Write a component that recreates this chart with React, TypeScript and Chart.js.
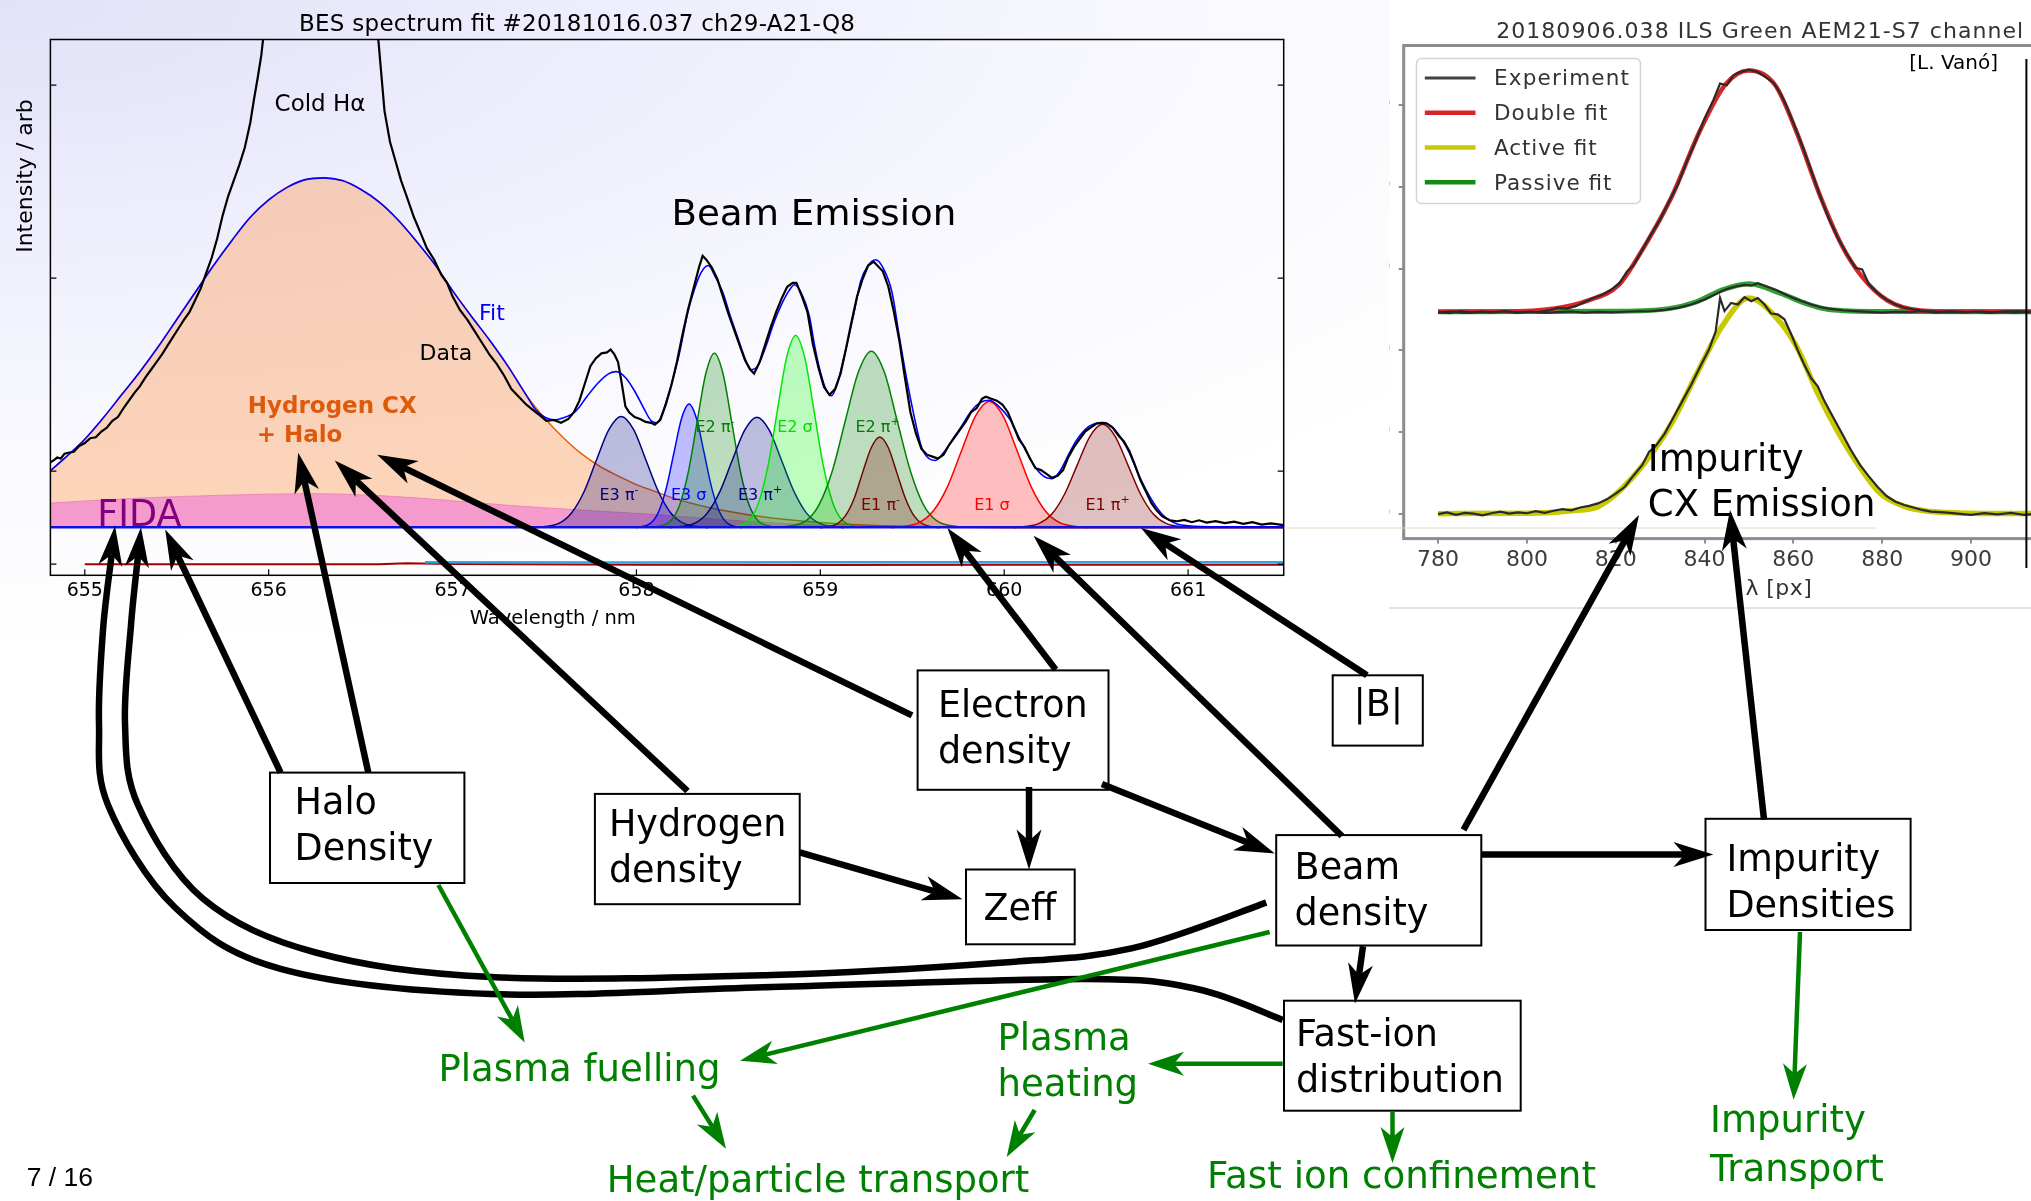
import React, { useEffect, useRef } from "react";
import { Chart, registerables } from "chart.js";
Chart.register(...registerables);

type P = [number, number];

// ---------------- BES spectrum (left chart) ----------------
const BES_X_TICKS = [655, 656, 657, 658, 659, 660, 661];
const BES_Y_TICKS = [-0.187, 0.295, 1.295, 2.295];
const BES_X_MIN = 654.813;
const BES_X_MAX = 661.52;
const BES_Y_MIN = -0.245;
const BES_Y_MAX = 2.531;

const BES_DATA: P[] = [
  [654.813, 0.34], [654.83, 0.35], [654.85, 0.365], [654.87, 0.36], [654.89, 0.385], [654.91, 0.39], [654.94, 0.395],
  [654.97, 0.425], [655.0, 0.44], [655.03, 0.465], [655.06, 0.47], [655.09, 0.5], [655.12, 0.52], [655.15, 0.555],
  [655.18, 0.575], [655.21, 0.62], [655.24, 0.66], [655.27, 0.7], [655.3, 0.735], [655.33, 0.78], [655.36, 0.82],
  [655.39, 0.86], [655.42, 0.9], [655.45, 0.945], [655.48, 0.99], [655.51, 1.035], [655.54, 1.08], [655.57, 1.12],
  [655.6, 1.18], [655.63, 1.24], [655.66, 1.32], [655.69, 1.4], [655.72, 1.5], [655.75, 1.62], [655.78, 1.72],
  [655.81, 1.8], [655.84, 1.88], [655.87, 1.97], [655.9, 2.1], [655.92, 2.22], [655.94, 2.33], [655.96, 2.45],
  [655.98, 2.62], [656.02, 3.2], [656.1, 4.2], [656.3, 4.8], [656.5, 4.2], [656.56, 3.1], [656.59, 2.6],
  [656.61, 2.38], [656.63, 2.16], [656.66, 2.0], [656.69, 1.9], [656.72, 1.8], [656.75, 1.72], [656.79, 1.61],
  [656.83, 1.52], [656.86, 1.45], [656.9, 1.39], [656.94, 1.31], [656.97, 1.27], [657.0, 1.2], [657.04, 1.13],
  [657.08, 1.08], [657.12, 1.02], [657.16, 0.96], [657.2, 0.9], [657.24, 0.85], [657.28, 0.79], [657.32, 0.72],
  [657.36, 0.68], [657.4, 0.64], [657.44, 0.61], [657.48, 0.58], [657.51, 0.555], [657.55, 0.56], [657.59, 0.545],
  [657.63, 0.565], [657.66, 0.6], [657.69, 0.66], [657.72, 0.75], [657.75, 0.84], [657.78, 0.88], [657.81, 0.905],
  [657.84, 0.91], [657.86, 0.925], [657.88, 0.9], [657.9, 0.86], [657.92, 0.75], [657.94, 0.63], [657.96, 0.6],
  [657.99, 0.575], [658.02, 0.565], [658.05, 0.55], [658.08, 0.545], [658.1, 0.535], [658.13, 0.56], [658.16, 0.64],
  [658.19, 0.74], [658.22, 0.86], [658.25, 1.0], [658.28, 1.13], [658.31, 1.24], [658.34, 1.35], [658.36, 1.41],
  [658.38, 1.39], [658.41, 1.35], [658.44, 1.29], [658.47, 1.2], [658.5, 1.11], [658.53, 1.03], [658.56, 0.95],
  [658.59, 0.87], [658.62, 0.82], [658.64, 0.8], [658.67, 0.86], [658.7, 0.95], [658.73, 1.04], [658.76, 1.12],
  [658.79, 1.19], [658.82, 1.25], [658.85, 1.27], [658.87, 1.27], [658.9, 1.2], [658.93, 1.12], [658.96, 0.95],
  [658.99, 0.83], [659.02, 0.73], [659.05, 0.69], [659.08, 0.72], [659.11, 0.8], [659.14, 0.93], [659.17, 1.07],
  [659.2, 1.2], [659.23, 1.29], [659.26, 1.36], [659.29, 1.38], [659.31, 1.36], [659.34, 1.33], [659.37, 1.25],
  [659.4, 1.12], [659.43, 0.97], [659.46, 0.78], [659.49, 0.6], [659.52, 0.49], [659.55, 0.41], [659.58, 0.38],
  [659.61, 0.37], [659.64, 0.36], [659.67, 0.38], [659.7, 0.43], [659.73, 0.47], [659.76, 0.51], [659.79, 0.55],
  [659.82, 0.6], [659.85, 0.62], [659.88, 0.67], [659.9, 0.68], [659.93, 0.67], [659.96, 0.66], [659.99, 0.64],
  [660.02, 0.6], [660.05, 0.53], [660.08, 0.46], [660.11, 0.42], [660.14, 0.36], [660.17, 0.31], [660.2, 0.3],
  [660.23, 0.28], [660.26, 0.26], [660.29, 0.27], [660.32, 0.3], [660.35, 0.37], [660.38, 0.42], [660.41, 0.46],
  [660.44, 0.5], [660.47, 0.52], [660.5, 0.54], [660.53, 0.545], [660.56, 0.54], [660.59, 0.52], [660.62, 0.48],
  [660.65, 0.45], [660.68, 0.4], [660.71, 0.33], [660.74, 0.25], [660.77, 0.19], [660.8, 0.13], [660.83, 0.09],
  [660.86, 0.06], [660.9, 0.04], [660.94, 0.035], [660.98, 0.042], [661.02, 0.03], [661.06, 0.04], [661.1, 0.028],
  [661.15, 0.036], [661.2, 0.025], [661.25, 0.033], [661.3, 0.022], [661.35, 0.03], [661.4, 0.018], [661.45, 0.024],
  [661.52, 0.015],
];

const BES_FIT: P[] = [
  [654.813, 0.297], [654.9, 0.37], [655.0, 0.46], [655.1, 0.57], [655.2, 0.69], [655.3, 0.81], [655.4, 0.94],
  [655.5, 1.08], [655.6, 1.22], [655.7, 1.36], [655.8, 1.49], [655.9, 1.61], [656.0, 1.7], [656.1, 1.765],
  [656.2, 1.805], [656.3, 1.814], [656.4, 1.8], [656.5, 1.755], [656.6, 1.69], [656.7, 1.6], [656.8, 1.49],
  [656.9, 1.37], [657.0, 1.23], [657.1, 1.1], [657.2, 0.975], [657.3, 0.84], [657.4, 0.69], [657.45, 0.615],
  [657.5, 0.575], [657.55, 0.56], [657.6, 0.57], [657.67, 0.605], [657.73, 0.68], [657.79, 0.75], [657.85, 0.8],
  [657.89, 0.81], [657.94, 0.78], [657.99, 0.71], [658.04, 0.62], [658.08, 0.555], [658.11, 0.545], [658.17, 0.68],
  [658.23, 0.89], [658.28, 1.12], [658.31, 1.22], [658.35, 1.32], [658.39, 1.36], [658.43, 1.3], [658.47, 1.22],
  [658.51, 1.1], [658.55, 0.99], [658.59, 0.88], [658.62, 0.82], [658.66, 0.84], [658.7, 0.93], [658.75, 1.07],
  [658.79, 1.16], [658.83, 1.23], [658.86, 1.26], [658.9, 1.21], [658.94, 1.1], [658.97, 0.94], [659.0, 0.81],
  [659.03, 0.72], [659.06, 0.685], [659.09, 0.74], [659.13, 0.89], [659.18, 1.1], [659.22, 1.28], [659.26, 1.36],
  [659.3, 1.39], [659.34, 1.35], [659.39, 1.22], [659.43, 0.99], [659.47, 0.77], [659.51, 0.58], [659.55, 0.42],
  [659.59, 0.36], [659.625, 0.35], [659.67, 0.39], [659.72, 0.46], [659.77, 0.53], [659.82, 0.605], [659.87, 0.65],
  [659.92, 0.662], [659.97, 0.63], [660.03, 0.564], [660.08, 0.47], [660.13, 0.38], [660.18, 0.3], [660.23, 0.26],
  [660.26, 0.256], [660.3, 0.29], [660.35, 0.38], [660.39, 0.45], [660.44, 0.51], [660.49, 0.54], [660.54, 0.547],
  [660.59, 0.52], [660.64, 0.46], [660.68, 0.39], [660.72, 0.3], [660.77, 0.2], [660.81, 0.134], [660.86, 0.07],
  [660.9, 0.04], [660.94, 0.021], [661.0, 0.012], [661.2, 0.006], [661.52, 0.005],
];

const BES_CX_HALO: P[] = [
  [654.813, 0.297], [654.9, 0.37], [655.0, 0.46], [655.1, 0.57], [655.2, 0.69], [655.3, 0.81], [655.4, 0.94],
  [655.5, 1.08], [655.6, 1.22], [655.7, 1.36], [655.8, 1.49], [655.9, 1.61], [656.0, 1.7], [656.1, 1.765],
  [656.2, 1.805], [656.3, 1.814], [656.4, 1.8], [656.5, 1.755], [656.6, 1.69], [656.7, 1.6], [656.8, 1.49],
  [656.9, 1.37], [657.0, 1.23], [657.1, 1.1], [657.2, 0.975], [657.3, 0.84], [657.4, 0.69], [657.5, 0.57],
  [657.6, 0.47], [657.7, 0.385], [657.8, 0.32], [657.9, 0.27], [658.0, 0.225], [658.1, 0.19], [658.2, 0.155],
  [658.4, 0.105], [658.6, 0.07], [658.8, 0.045], [659.0, 0.028], [659.2, 0.017], [659.5, 0.008], [660.0, 0.002],
  [661.52, 0],
];

const BES_FIDA: P[] = [
  [654.813, 0.129], [655.0, 0.14], [655.3, 0.155], [655.75, 0.17], [656.24, 0.178], [656.6, 0.168], [656.97, 0.144],
  [657.3, 0.118], [657.7, 0.093], [658.1, 0.07], [658.6, 0.035], [659.0, 0.015], [659.4, 0.005], [660.0, 0.001],
  [661.52, 0],
];

const E3_PI_MINUS: P[] = [
  [657.445, 0.001], [657.58, 0.025], [657.647, 0.078], [657.715, 0.188], [657.782, 0.351], [657.85, 0.51],
  [657.917, 0.578], [657.985, 0.51], [658.052, 0.351], [658.12, 0.188], [658.187, 0.078], [658.255, 0.025], [658.39, 0.001],
];
const E3_SIGMA: P[] = [
  [657.999, 0.001], [658.081, 0.028], [658.122, 0.087], [658.163, 0.209], [658.204, 0.39], [658.245, 0.566],
  [658.286, 0.642], [658.327, 0.566], [658.368, 0.39], [658.409, 0.209], [658.45, 0.087], [658.491, 0.028], [658.573, 0.001],
];
const E3_PI_PLUS: P[] = [
  [658.183, 0.001], [658.318, 0.025], [658.385, 0.077], [658.453, 0.187], [658.52, 0.348], [658.588, 0.506],
  [658.655, 0.574], [658.723, 0.506], [658.79, 0.348], [658.858, 0.187], [658.925, 0.077], [658.993, 0.025], [659.128, 0.001],
];
const E2_PI_MINUS: P[] = [
  [658.095, 0.002], [658.189, 0.04], [658.236, 0.122], [658.283, 0.294], [658.33, 0.55], [658.377, 0.799],
  [658.424, 0.906], [658.471, 0.799], [658.518, 0.55], [658.565, 0.294], [658.612, 0.122], [658.659, 0.04], [658.753, 0.002],
];
const E2_SIGMA: P[] = [
  [658.516, 0.002], [658.616, 0.044], [658.666, 0.135], [658.716, 0.324], [658.766, 0.606], [658.816, 0.88],
  [658.866, 0.998], [658.916, 0.88], [658.966, 0.606], [659.016, 0.324], [659.066, 0.135], [659.116, 0.044], [659.216, 0.002],
];
const E2_PI_PLUS: P[] = [
  [658.784, 0.002], [658.925, 0.04], [658.995, 0.124], [659.066, 0.298], [659.136, 0.556], [659.207, 0.808],
  [659.277, 0.916], [659.348, 0.808], [659.418, 0.556], [659.489, 0.298], [659.559, 0.124], [659.63, 0.04], [659.771, 0.002],
];
const E1_PI_MINUS: P[] = [
  [658.998, 0.001], [659.091, 0.021], [659.137, 0.064], [659.184, 0.153], [659.23, 0.287], [659.277, 0.416],
  [659.323, 0.472], [659.37, 0.416], [659.416, 0.287], [659.463, 0.153], [659.509, 0.064], [659.556, 0.021], [659.649, 0.001],
];
const E1_SIGMA: P[] = [
  [659.387, 0.001], [659.539, 0.029], [659.615, 0.089], [659.691, 0.213], [659.767, 0.398], [659.843, 0.579],
  [659.919, 0.656], [659.995, 0.579], [660.071, 0.398], [660.147, 0.213], [660.223, 0.089], [660.299, 0.029], [660.451, 0.001],
];
const E1_PI_PLUS: P[] = [
  [660.052, 0.001], [660.19, 0.024], [660.259, 0.072], [660.328, 0.175], [660.397, 0.326], [660.466, 0.474],
  [660.535, 0.537], [660.604, 0.474], [660.673, 0.326], [660.742, 0.175], [660.811, 0.072], [660.88, 0.024], [661.018, 0.001],
];
const BES_BASELINE: P[] = [[654.813, 0.004], [661.52, 0.004]];
const RESID_RED: P[] = [
  [655.0, -0.188], [656.6, -0.188], [656.75, -0.182], [657.0, -0.186], [658.0, -0.19], [659.0, -0.191], [660.0, -0.19], [661.52, -0.19],
];
const RESID_CYAN: P[] = [[656.85, -0.178], [658.0, -0.179], [659.0, -0.178], [660.0, -0.177], [661.52, -0.178]];

// ---------------- ILS (right chart) ----------------
const ILS_X_TICKS = [780, 800, 820, 840, 860, 880, 900];
const ILS_Y_TICKS = [0, 1000, 2000, 3000, 4000, 5000];
const ILS_X_MIN = 772.25;
const ILS_X_MAX = 914.2;
const ILS_Y_MIN = -300;
const ILS_Y_MAX = 5725;

const ILS_DOUBLE_FIT: P[] = [
  [780, 2473], [795, 2475], [806.2, 2512], [813.7, 2609], [820.7, 2800], [825, 3140], [832.5, 3865], [839, 4686],
  [844.6, 5242], [850, 5420], [855.9, 5242], [860.6, 4686], [866.2, 3865], [870.9, 3285], [875.5, 2898],
  [881.2, 2609], [888.7, 2488], [900, 2474], [916, 2473],
];
const ILS_PASSIVE_FIT: P[] = [
  [780, 2472], [820, 2478], [832, 2510], [838, 2590], [844, 2740], [850, 2815], [857, 2700], [863, 2570],
  [868, 2500], [880, 2475], [916, 2472],
];
const ILS_ACTIVE_FIT: P[] = [
  [780, 5], [800, 10], [810, 40], [816, 90], [821, 290], [827, 660], [832.6, 1110], [838.3, 1720], [843.9, 2290],
  [850, 2640], [856, 2410], [860.8, 2040], [865.5, 1475], [870.2, 990], [874.9, 580], [879.6, 250], [885.2, 90],
  [891, 30], [900, 10], [916, 5],
];
const ILS_EXP_DOUBLE: P[] = [
  [780, 2470], [782.5, 2455], [785, 2480], [787.5, 2462], [790, 2475], [792.5, 2466], [795, 2478], [797.5, 2460],
  [800, 2472], [802.5, 2468], [805, 2490], [807, 2520], [809, 2510], [811, 2540], [813, 2590], [815, 2640],
  [817, 2680], [819, 2740], [821, 2830], [822.5, 2960], [824, 3040], [826, 3230], [828, 3420], [830, 3600],
  [832, 3820], [834, 4030], [836, 4310], [838, 4560], [840, 4830], [842, 5060], [843.5, 5260], [845, 5240],
  [846.5, 5360], [848, 5400], [850, 5430], [852, 5400], [854, 5330], [855.5, 5270], [857, 5150], [858.5, 4980],
  [860, 4780], [862, 4500], [864, 4200], [866, 3890], [868, 3610], [870, 3380], [872, 3180], [874, 3010],
  [875.5, 2990], [877, 2810], [879, 2700], [881, 2620], [883, 2560], [885, 2520], [887, 2500], [889, 2485],
  [891, 2478], [893, 2470], [896, 2476], [899, 2468], [902, 2474], [905, 2465], [908, 2476], [911, 2480],
  [914, 2460], [916, 2470],
];
const ILS_EXP_PASSIVE: P[] = [
  [780, 2460], [783, 2475], [786, 2458], [789, 2470], [792, 2465], [795, 2478], [798, 2462], [801, 2470],
  [804, 2458], [807, 2468], [810, 2475], [813, 2462], [816, 2470], [819, 2465], [822, 2472], [825, 2478],
  [828, 2480], [831, 2495], [834, 2520], [837, 2560], [840, 2620], [843, 2700], [845, 2750], [847, 2780],
  [849, 2800], [850.5, 2790], [852, 2820], [854, 2780], [856, 2740], [858, 2690], [860, 2640], [862, 2600],
  [864, 2560], [866, 2530], [868, 2510], [871, 2490], [874, 2480], [877, 2470], [880, 2462], [883, 2472],
  [886, 2466], [889, 2478], [892, 2460], [895, 2470], [898, 2465], [901, 2472], [904, 2458], [907, 2470],
  [910, 2462], [913, 2476], [916, 2455],
];
const ILS_EXP_ACTIVE: P[] = [
  [780, 0], [782, 20], [784, -10], [786, 15], [788, 5], [790, -15], [792, 10], [794, 30], [796, 5], [798, 20],
  [800, 10], [802, 35], [804, 15], [806, 40], [808, 60], [810, 45], [812, 80], [814, 100], [816, 130], [818, 180],
  [820, 250], [822, 330], [824, 470], [826, 600], [827.5, 760], [829, 830], [831, 980], [833, 1180], [835, 1380],
  [837, 1580], [839, 1800], [841, 2010], [842.5, 2230], [843.5, 2640], [844.5, 2480], [846, 2580], [847.5, 2560],
  [849, 2650], [850.5, 2600], [852, 2640], [853.5, 2560], [855, 2450], [856.5, 2440], [858, 2380], [859.5, 2200],
  [861, 2000], [862.5, 1820], [864, 1660], [865.5, 1560], [867, 1380], [869, 1180], [871, 980], [873, 780],
  [875, 600], [877, 460], [879, 330], [881, 220], [883, 150], [885, 110], [887, 80], [889, 50], [891, 30],
  [894, 20], [897, 5], [900, -10], [903, 10], [906, -5], [909, 15], [912, -10], [915, 5],
];

const ILS_LEGEND = ["Experiment", "Double fit", "Active fit", "Passive fit"];

// ---------------- helpers ----------------
const xy = (a: P[]) => a.map(([x, y]) => ({ x, y }));
const FONT = "'DejaVu Sans'";

function curveDs(data: P[], color: string, fillColor: string | null, order: number, width = 1.5, smooth = true) {
  return {
    data: xy(data),
    borderColor: color,
    backgroundColor: fillColor || "transparent",
    borderWidth: width,
    fill: fillColor ? "origin" : false,
    pointRadius: 0,
    cubicInterpolationMode: smooth ? "monotone" : "default",
    tension: 0,
    order,
  };
}

const besFrame = {
  id: "besFrame",
  afterDraw(chart: any) {
    const { ctx, chartArea, scales } = chart;
    const { left, right, top, bottom } = chartArea;
    ctx.save();
    ctx.strokeStyle = "#000";
    ctx.lineWidth = 1.5;
    ctx.strokeRect(left, top, right - left, bottom - top);
    ctx.lineWidth = 1.2;
    ctx.beginPath();
    for (const v of BES_X_TICKS) {
      const px = scales.x.getPixelForValue(v);
      ctx.moveTo(px, bottom);
      ctx.lineTo(px, bottom - 6);
    }
    for (const v of BES_Y_TICKS) {
      const py = scales.y.getPixelForValue(v);
      ctx.moveTo(left, py);
      ctx.lineTo(left + 6, py);
      ctx.moveTo(right, py);
      ctx.lineTo(right - 6, py);
    }
    ctx.stroke();
    ctx.restore();
  },
};

const ilsFrame = {
  id: "ilsFrame",
  afterDraw(chart: any) {
    const { ctx, chartArea } = chart;
    const { left, right, top, bottom } = chartArea;
    ctx.save();
    ctx.strokeStyle = "#8c8c8c";
    ctx.lineWidth = 3;
    ctx.strokeRect(left, top, right - left, bottom - top);
    ctx.restore();
  },
};

function smoothPath(pts: P[]) {
  let d = `M ${pts[0][0]} ${pts[0][1]}`;
  for (let i = 0; i < pts.length - 1; i++) {
    const p0 = pts[i - 1] || pts[i];
    const p1 = pts[i];
    const p2 = pts[i + 1];
    const p3 = pts[i + 2] || p2;
    const c1x = p1[0] + (p2[0] - p0[0]) / 6;
    const c1y = p1[1] + (p2[1] - p0[1]) / 6;
    const c2x = p2[0] - (p3[0] - p1[0]) / 6;
    const c2y = p2[1] - (p3[1] - p1[1]) / 6;
    d += ` C ${c1x} ${c1y} ${c2x} ${c2y} ${p2[0]} ${p2[1]}`;
  }
  return d;
}

function headPath(tx: number, ty: number, ux: number, uy: number, hl: number, hw: number, notch: number) {
  const px = -uy, py = ux;
  const bx = tx - ux * hl, by = ty - uy * hl;
  const nx = tx - ux * notch, ny = ty - uy * notch;
  return `M ${tx} ${ty} L ${bx + (px * hw) / 2} ${by + (py * hw) / 2} L ${nx} ${ny} L ${bx - (px * hw) / 2} ${by - (py * hw) / 2} Z`;
}

function Arrow({ a, color, w, hl, hw }: { a: number[]; color: string; w: number; hl: number; hw: number }) {
  const [x1, y1, x2, y2] = a;
  const L = Math.hypot(x2 - x1, y2 - y1);
  const ux = (x2 - x1) / L, uy = (y2 - y1) / L;
  const notch = hl * 0.72;
  return (
    <g>
      <line x1={x1} y1={y1} x2={x2 - ux * notch} y2={y2 - uy * notch} stroke={color} strokeWidth={w} />
      <path d={headPath(x2, y2, ux, uy, hl, hw, notch)} fill={color} />
    </g>
  );
}

function CurveArrow({ pts, w, hl, hw }: { pts: P[]; w: number; hl: number; hw: number }) {
  const n = pts.length;
  const [tx, ty] = pts[n - 1];
  const [sx, sy] = pts[n - 2];
  const L = Math.hypot(tx - sx, ty - sy);
  const ux = (tx - sx) / L, uy = (ty - sy) / L;
  const notch = hl * 0.72;
  const body: P[] = [...pts.slice(0, n - 1), [tx - ux * notch, ty - uy * notch]];
  return (
    <g>
      <path d={smoothPath(body)} stroke="#000" strokeWidth={w} fill="none" />
      <path d={headPath(tx, ty, ux, uy, hl, hw, notch)} fill="#000" />
    </g>
  );
}

const BLACK_ARROWS = [
  [280.6, 772.6, 165.2, 529.5],
  [368.3, 772.6, 298.2, 452.7],
  [687.5, 791, 334.8, 460.6],
  [912, 715.4, 377.2, 454.7],
  [1055.7, 669.6, 947.4, 527.9],
  [1341.9, 836, 1033.5, 535.8],
  [1366.9, 675.3, 1141, 527.9],
  [1029, 787, 1029, 869.5],
  [799.7, 852.3, 962.5, 899.3],
  [1101.9, 784, 1274.8, 853.5],
  [1481.3, 854.4, 1713.4, 854.4],
  [1363, 946.3, 1355, 1003.6],
  [1463.5, 829.8, 1639, 515],
  [1764, 819.6, 1730, 510],
];
const GREEN_ARROWS = [
  [438.4, 885, 524.7, 1042.4],
  [1269.6, 932, 740, 1060.8],
  [693, 1095.6, 726, 1148.7],
  [1034.7, 1110, 1006.7, 1157],
  [1282.7, 1063.7, 1148, 1063.7],
  [1392.5, 1112, 1392.5, 1163],
  [1800, 932, 1793.6, 1099.7],
];
const CURVE_OUTER: P[] = [
  [1282.7, 1020], [1197, 989], [1085.5, 979], [771.6, 987], [491, 994], [280.6, 968.8], [175, 907.5],
  [108, 805], [99, 723.5], [103, 630], [115, 526],
];
const CURVE_INNER: P[] = [
  [1266.3, 902.6], [1131.5, 948.4], [1000, 962.7], [771.6, 975], [491, 977], [315.7, 952.5], [203.4, 899],
  [138, 805], [125, 723.5], [131, 625], [141, 527.3],
];

const BOXES = [
  { x: 270, y: 772.6, w: 194.4, h: 110.4, lines: ["Halo", "Density"], tx: 294.6, ty: 813.5 },
  { x: 594.9, y: 793.9, w: 204.8, h: 110.3, lines: ["Hydrogen", "density"], tx: 608.9, ty: 836 },
  { x: 917.6, y: 670.4, w: 190.9, h: 119.4, lines: ["Electron", "density"], tx: 937.9, ty: 717.4 },
  { x: 966, y: 869.5, w: 108.7, h: 74.8, lines: ["Zeff"], tx: 983.5, ty: 919.8 },
  { x: 1332.7, y: 675.3, w: 90.1, h: 70.3, lines: ["|B|"], tx: 1353.5, ty: 716 },
  { x: 1276.2, y: 835.1, w: 205.1, h: 110.4, lines: ["Beam", "density"], tx: 1294.6, ty: 878.9 },
  { x: 1705.5, y: 818.8, w: 205.1, h: 111.2, lines: ["Impurity", "Densities"], tx: 1726.5, ty: 870.7 },
  { x: 1284, y: 1000.7, w: 236.7, h: 110, lines: ["Fast-ion", "distribution"], tx: 1295.9, ty: 1045.7 },
];

export default function App() {
  const besRef = useRef<HTMLCanvasElement | null>(null);
  const ilsRef = useRef<HTMLCanvasElement | null>(null);

  useEffect(() => {
    const besCfg: any = {
      type: "line",
      data: {
        datasets: [
          curveDs(BES_DATA, "#000000", null, 5, 2.2, false),
          curveDs(BES_FIT, "#0000ff", null, 10, 1.6),
          curveDs(RESID_CYAN, "#2aa6ea", null, 14, 2.5, false),
          curveDs(RESID_RED, "#a00000", null, 15, 2, false),
          curveDs(BES_BASELINE, "#1010e0", null, 20, 2.5, false),
          curveDs(E1_PI_PLUS, "#800000", "rgba(128,0,0,0.25)", 72),
          curveDs(E1_SIGMA, "#ff0000", "rgba(255,0,0,0.25)", 73),
          curveDs(E1_PI_MINUS, "#6b0a00", "rgba(128,0,0,0.25)", 74),
          curveDs(E2_PI_PLUS, "#008000", "rgba(0,128,0,0.25)", 75),
          curveDs(E2_SIGMA, "#00e600", "rgba(0,255,0,0.25)", 76),
          curveDs(E3_PI_PLUS, "#000080", "rgba(0,0,128,0.25)", 77),
          curveDs(E2_PI_MINUS, "#008000", "rgba(0,128,0,0.25)", 78),
          curveDs(E3_SIGMA, "#0000ff", "rgba(0,0,255,0.25)", 79),
          curveDs(E3_PI_MINUS, "#000080", "rgba(0,0,128,0.25)", 80),
          curveDs(BES_FIDA, "rgba(230,120,170,0.7)", "rgba(240,120,215,0.62)", 90, 1),
          curveDs(BES_CX_HALO, "#e8600a", "rgba(255,140,60,0.35)", 100, 1.5),
        ],
      },
      options: {
        responsive: false,
        animation: false,
        devicePixelRatio: 1,
        layout: { padding: { top: 39.5, right: 16.3, left: 0, bottom: 0 } },
        plugins: { legend: { display: false }, tooltip: { enabled: false } },
        scales: {
          x: {
            type: "linear",
            min: BES_X_MIN,
            max: BES_X_MAX,
            afterBuildTicks: (s: any) => { s.ticks = BES_X_TICKS.map((v) => ({ value: v })); },
            afterFit: (s: any) => { s.height = 64.7; },
            grid: { display: false, drawTicks: false },
            border: { display: false },
            ticks: { autoSkip: false, maxRotation: 0, padding: 4, color: "#000", font: { family: FONT, size: 19 }, callback: (v: number) => String(v) },
          },
          y: {
            type: "linear",
            min: BES_Y_MIN,
            max: BES_Y_MAX,
            afterBuildTicks: (s: any) => { s.ticks = BES_Y_TICKS.map((v) => ({ value: v })); },
            afterFit: (s: any) => { s.width = 50.4; },
            grid: { display: false, drawTicks: false },
            border: { display: false },
            ticks: { display: false },
          },
        },
      },
      plugins: [besFrame],
    };

    const ilsCfg: any = {
      type: "line",
      data: {
        datasets: [
          curveDs(ILS_EXP_DOUBLE, "#2a2a2a", null, 1, 2.2, false),
          curveDs(ILS_EXP_PASSIVE, "#2a2a2a", null, 2, 2.2, false),
          curveDs(ILS_EXP_ACTIVE, "#2a2a2a", null, 3, 2.2, false),
          curveDs(ILS_DOUBLE_FIT, "#d62728", null, 10, 4.5),
          curveDs(ILS_PASSIVE_FIT, "rgba(10,140,10,0.85)", null, 11, 5),
          curveDs(ILS_ACTIVE_FIT, "#c9c900", null, 12, 5.5),
        ],
      },
      options: {
        responsive: false,
        animation: false,
        devicePixelRatio: 1,
        layout: { padding: { top: 45.5, right: 6, left: 0, bottom: 0 } },
        plugins: { legend: { display: false }, tooltip: { enabled: false } },
        scales: {
          x: {
            type: "linear",
            min: ILS_X_MIN,
            max: ILS_X_MAX,
            afterBuildTicks: (s: any) => { s.ticks = ILS_X_TICKS.map((v) => ({ value: v })); },
            afterFit: (s: any) => { s.height = 69.4; },
            grid: { display: true, drawOnChartArea: false, drawTicks: true, tickLength: 5, color: "#8c8c8c", lineWidth: 2 },
            border: { display: false },
            ticks: { autoSkip: false, maxRotation: 0, padding: 3, color: "#3c3c3c", font: { family: FONT, size: 22 }, callback: (v: number) => String(v) },
          },
          y: {
            type: "linear",
            min: ILS_Y_MIN,
            max: ILS_Y_MAX,
            afterBuildTicks: (s: any) => { s.ticks = ILS_Y_TICKS.map((v) => ({ value: v })); },
            afterFit: (s: any) => { s.width = 103.7; },
            grid: { display: true, drawOnChartArea: false, drawTicks: true, tickLength: 5, color: "#8c8c8c", lineWidth: 2 },
            border: { display: false },
            ticks: { padding: 8, color: "#3c3c3c", font: { family: FONT, size: 22 }, callback: (v: number) => String(v) },
          },
        },
      },
      plugins: [ilsFrame],
    };

    const c1 = new Chart(besRef.current as HTMLCanvasElement, besCfg);
    const c2 = new Chart(ilsRef.current as HTMLCanvasElement, ilsCfg);
    return () => {
      c1.destroy();
      c2.destroy();
    };
  }, []);

  const green = "#008000";
  const sup = (s: string) => (
    <tspan dy={-7} fontSize={11}>{s}</tspan>
  );

  return (
    <div
      style={{
        position: "absolute",
        left: 0,
        top: 0,
        width: 2031,
        height: 1201,
        overflow: "hidden",
        background: "radial-gradient(ellipse 1800px 650px at 0px 0px, #e1e1f9 0%, #eeeefc 35%, #f8f8fe 65%, #ffffff 100%)",
      }}
    >
      <canvas ref={besRef} width={1300} height={640} style={{ position: "absolute", left: 0, top: 0, width: 1300, height: 640 }} />
      <div style={{ position: "absolute", left: 1389, top: 0, width: 642, height: 608, overflow: "hidden", background: "#ffffff" }}>
        <canvas ref={ilsRef} width={740} height={608} style={{ position: "absolute", left: -89, top: 0, width: 740, height: 608 }} />
      </div>
      <svg width={2031} height={1201} style={{ position: "absolute", left: 0, top: 0, pointerEvents: "none" }} fontFamily={FONT}>
        {/* decorative lines */}
        <line x1={1284} y1={528} x2={1877} y2={528} stroke="#e4dcc4" strokeWidth={1} />
        <line x1={1389} y1={608} x2={2031} y2={608} stroke="#e2e2e2" strokeWidth={2} />
        <line x1={2026.4} y1={59} x2={2026.4} y2={568} stroke="#000" strokeWidth={2} />

        {/* BES chart texts */}
        <text x={299} y={31} fontSize={23} textLength={556} lengthAdjust="spacing">BES spectrum fit #20181016.037 ch29-A21-Q8</text>
        <text transform="translate(31.5,176) rotate(-90)" textAnchor="middle" fontSize={22}>Intensity / arb</text>
        <text x={552.8} y={624} textAnchor="middle" fontSize={19.5}>Wavelength / nm</text>
        <text x={274.6} y={110.7} fontSize={23}>Cold Hα</text>
        <text x={479} y={319.5} fontSize={22} fill="#0000ff">Fit</text>
        <text x={419.6} y={360} fontSize={22}>Data</text>
        <text x={247.8} y={413} fontSize={23} fontWeight="bold" fill="#dc5a0a">Hydrogen CX</text>
        <text x={256.7} y={441.7} fontSize={23} fontWeight="bold" fill="#dc5a0a">+ Halo</text>
        <text x={671.4} y={225.4} fontSize={35} textLength={285} lengthAdjust="spacingAndGlyphs">Beam Emission</text>
        <text x={97.3} y={526} fontSize={36.5} fill="#800080">FIDA</text>

        <text x={619} y={500} textAnchor="middle" fontSize={16} fill="#000080">E3 π{sup("-")}</text>
        <text x={688.7} y={500} textAnchor="middle" fontSize={16} fill="#0000ff">E3 σ</text>
        <text x={760} y={500} textAnchor="middle" fontSize={16} fill="#000080">E3 π{sup("+")}</text>
        <text x={715} y={431.7} textAnchor="middle" fontSize={16} fill="#008000">E2 π{sup("-")}</text>
        <text x={795} y={431.7} textAnchor="middle" fontSize={16} fill="#00dd00">E2 σ</text>
        <text x={877.5} y={431.7} textAnchor="middle" fontSize={16} fill="#008000">E2 π{sup("+")}</text>
        <text x={880.5} y={510} textAnchor="middle" fontSize={16} fill="#800000">E1 π{sup("-")}</text>
        <text x={992} y={510} textAnchor="middle" fontSize={16} fill="#ff0000">E1 σ</text>
        <text x={1107.5} y={510} textAnchor="middle" fontSize={16} fill="#800000">E1 π{sup("+")}</text>

        {/* ILS chart texts */}
        <text x={1496.2} y={37.6} fontSize={22} fill="#333" textLength={527} lengthAdjust="spacing">20180906.038 ILS Green AEM21-S7 channel</text>
        <text x={1909.3} y={69.2} fontSize={20}>[L. Vanó]</text>
        <text x={1745.4} y={595} fontSize={22} fill="#333" textLength={66.4} lengthAdjust="spacing">λ [px]</text>
        <rect x={1416.5} y={58.5} width={224} height={145} rx={5} fill="rgba(255,255,255,0.85)" stroke="#d4d4d4" strokeWidth={1.5} />
        {ILS_LEGEND.map((lab, i) => {
          const cols = ["#404040", "#d62728", "#c9c900", "#138a13"];
          const widths = [3, 4.5, 4.5, 4.5];
          const lens = [135, 113.4, 102.6, 117.5];
          const y = 77.9 + i * 34.8;
          return (
            <g key={lab}>
              <line x1={1424.8} y1={y} x2={1475.5} y2={y} stroke={cols[i]} strokeWidth={widths[i]} />
              <text x={1494} y={y + 7.5} fontSize={21.5} fill="#333" textLength={lens[i]} lengthAdjust="spacing">{lab}</text>
            </g>
          );
        })}
        <text x={1647.8} y={470.5} fontSize={37}>Impurity</text>
        <text x={1647.8} y={516} fontSize={37}>CX Emission</text>

        {/* diagram */}
        {BOXES.map((b) => (
          <g key={b.lines.join(" ")}>
            <rect x={b.x} y={b.y} width={b.w} height={b.h} fill="#fff" stroke="#000" strokeWidth={2} />
            {b.lines.map((l, i) => (
              <text key={l} x={b.tx} y={b.ty + i * 46} fontSize={36.5}>{l}</text>
            ))}
          </g>
        ))}
        <CurveArrow pts={CURVE_OUTER} w={6.5} hl={40} hw={24} />
        <CurveArrow pts={CURVE_INNER} w={6.5} hl={40} hw={24} />
        {BLACK_ARROWS.map((a, i) => (
          <Arrow key={"b" + i} a={a} color="#000" w={6.5} hl={40} hw={25} />
        ))}
        {GREEN_ARROWS.map((a, i) => (
          <Arrow key={"g" + i} a={a} color={green} w={4.5} hl={36} hw={24} />
        ))}

        <text x={438.4} y={1081.3} fontSize={37} fill={green}>Plasma fuelling</text>
        <text x={997.5} y={1049.8} fontSize={37} fill={green}>Plasma</text>
        <text x={997.5} y={1095.6} fontSize={37} fill={green}>heating</text>
        <text x={606.8} y={1191.6} fontSize={37} fill={green}>Heat/particle transport</text>
        <text x={1207.1} y={1187.6} fontSize={37.2} fill={green}>Fast ion confinement</text>
        <text x={1710.1} y={1132.4} fontSize={37} fill={green}>Impurity</text>
        <text x={1710.1} y={1181.4} fontSize={37} fill={green}>Transport</text>
        <text x={26.7} y={1186} fontSize={26.5} fontFamily="'Liberation Sans'">7 / 16</text>
      </svg>
    </div>
  );
}
